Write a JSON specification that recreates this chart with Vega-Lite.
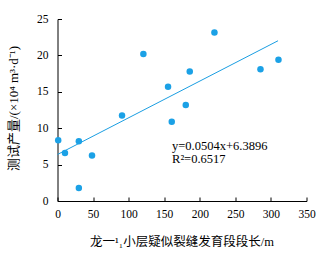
{
  "$schema": "https://vega.github.io/schema/vega-lite/v6.json",
  "width": 249,
  "height": 182,
  "autosize": {"type": "none"},
  "padding": {"left": 57.5, "top": 19, "right": 20, "bottom": 52},
  "background": "white",
  "config": {
    "view": {"stroke": null},
    "axis": {
      "grid": false,
      "domainColor": "black",
      "domainWidth": 1,
      "tickColor": "black",
      "tickWidth": 1,
      "labelOverlap": false,
      "labelBound": false,
      "labelFlush": false,
      "labelFont": "Liberation Serif",
      "labelFontSize": 11.5,
      "labelColor": "black",
      "titleFont": "Liberation Serif, Noto Sans CJK SC",
      "titleFontSize": 12.5,
      "titleFontWeight": "normal",
      "titleColor": "black"
    }
  },
  "datasets": {
    "pts": [
      {"x": 1, "y": 8.35},
      {"x": 10.5, "y": 6.6},
      {"x": 30, "y": 8.2},
      {"x": 30, "y": 1.8},
      {"x": 48.5, "y": 6.25},
      {"x": 90.7, "y": 11.75},
      {"x": 120.7, "y": 20.2},
      {"x": 155.4, "y": 15.7},
      {"x": 160.6, "y": 10.9},
      {"x": 180.3, "y": 13.2},
      {"x": 185.9, "y": 17.8},
      {"x": 220.6, "y": 23.15},
      {"x": 285.3, "y": 18.1},
      {"x": 310.6, "y": 19.4}
    ],
    "fit": [
      {"x": 0, "y": 6.3896},
      {"x": 310, "y": 22.0136}
    ],
    "ann": [
      {"x": 161, "y": 7.55, "t": "y=0.0504x+6.3896"},
      {"x": 161, "y": 5.75, "t": "R²=0.6517"}
    ]
  },
  "layer": [
    {
      "data": {"name": "fit"},
      "mark": {"type": "line", "color": "#1a9ee2", "strokeWidth": 1},
      "encoding": {
        "x": {"field": "x", "type": "quantitative", "scale": {"domain": [0, 350], "nice": false},
          "axis": {"tickCount": 7, "labelOverlap": false, "tickSize": -4, "labelPadding": 11.5, "title": "龙一¹₁小层疑似裂缝发育段段长/m", "titleX": 124, "titleY": 40, "titleBaseline": "middle"}},
        "y": {"field": "y", "type": "quantitative", "scale": {"domain": [0, 25], "nice": false},
          "axis": {"tickCount": 5, "labelOverlap": false, "tickSize": -4, "labelPadding": 13.5, "title": "测试产量/(×10⁴ m³·d⁻¹)", "titleFontSize": 13, "titleX": -44, "titleY": 89, "titleBaseline": "middle"}}
      }
    },
    {
      "data": {"name": "pts"},
      "mark": {"type": "circle", "color": "#1ba1e6", "opacity": 1, "size": 42},
      "encoding": {
        "x": {"field": "x", "type": "quantitative"},
        "y": {"field": "y", "type": "quantitative"}
      }
    },
    {
      "data": {"name": "ann"},
      "mark": {"type": "text", "align": "left", "baseline": "middle", "font": "Liberation Serif", "fontSize": 12.5, "color": "black"},
      "encoding": {
        "x": {"field": "x", "type": "quantitative"},
        "y": {"field": "y", "type": "quantitative"},
        "text": {"field": "t"}
      }
    }
  ]
}
